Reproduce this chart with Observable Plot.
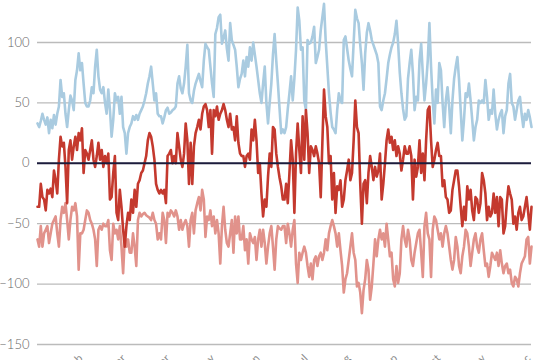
<!DOCTYPE html>
<html>
<head>
<meta charset="utf-8">
<script src="https://cdn.jsdelivr.net/npm/d3@7"></script>
<script src="https://cdn.jsdelivr.net/npm/@observablehq/plot@0.6"></script>
<style>
  html, body { margin: 0; padding: 0; background: #fff; overflow: hidden; }
  #chart svg { overflow: visible; display: block; }
</style>
</head>
<body>
<div id="chart"></div>
<script>
// Series values, one value per step
const upper = [
  33,30,35,41,36,32,38,25,36,29, 40,32,41,47,69,55,58,41,30,44, 56,52,44,69,77,91,77,83,66,50,
  47,47,52,63,58,80,94,72,61,58, 63,50,41,61,44,22,36,58,52,55, 41,55,30,25,8,25,30,33,39,36,
  40,36,41,44,47,52,58,66,72,80, 66,52,58,41,39,
  39,33,38,44,46,41,42,44,45,47, 66,72,62,58,66,80,98,58,52,50, 60,66,70,74,68,63,85,99,96,94,
  80,66,55,107,112,121,123,99,104,110, 95,85,116,102,98,94,80,63,70,74, 85,72,88,80,96,85,100,90,80,69,
  58,50,66,80,50,33,50,66,90,107, 85,66,45,25,28,
  25,30,45,58,72,52,70,94,129,118, 94,96,52,44,102,99,100,105,113,83, 88,94,110,121,132,102,80,58,42,30,
  28,25,44,58,52,50,102,105,95,85, 78,72,100,127,120,116,98,83,61,91, 108,116,110,102,98,94,90,83,47,44,
  52,58,70,83,90,96,100,107,118,99, 75,58,45,36,39,
  70,83,94,74,44,55,52,85,99,74, 52,66,85,116,80,52,33,61,50,83, 77,50,30,52,63,47,25,52,70,80,
  88,69,44,19,36,58,55,66,52,36, 19,30,36,52,50,52,50,69,55,36, 44,41,61,41,28,36,41,44,25,39,
  44,66,74,50,47,36,44,52,55,41, 30,41,36,44,38,30
];
const middle = [
  -36,-36,-17,-28,-30,-39,-22,-25,-21,-28, -6,-14,-25,3,22,14,17,-3,-33,11, 19,3,14,22,11,25,19,29,-8,11,
  8,3,11,19,3,-3,6,17,3,11, -3,6,0,8,-30,-28,-8,6,-41,-47, -22,-36,-55,-69,-52,-41,-47,-30,-41,-22,
  -36,-17,-14,-8,-6,0,6,19,25,22, 14,3,-17,-22,-25,
  -22,-25,-22,-33,6,8,11,0,6,0, 25,14,3,-3,8,33,19,-17,17,-17, 14,25,30,36,28,41,47,49,44,30,
  44,8,44,39,47,36,41,44,49,44, 36,30,41,28,30,19,39,17,8,6, 6,-3,6,8,3,28,19,36,19,-8,
  0,-25,-44,-30,-36,-11,8,-3,30,28, 8,-3,-12,-19,-30,
  -30,-17,-33,-8,19,3,-41,8,33,11, -8,39,3,44,25,-8,14,11,6,14, 8,0,-28,17,61,39,30,0,6,-30,
  -8,-41,-19,-22,-14,-36,-30,-14,-6,3, -14,-8,19,52,30,25,-17,-50,-17,-14, -33,-8,6,-3,-14,-3,-11,-6,8,-30,
  -17,0,19,28,17,22,11,19,6,14, 8,-6,3,14,8,
  8,14,6,-30,3,-11,-3,19,-8,8, -14,19,44,47,19,-3,3,11,17,6, 6,-19,-14,-28,-30,-41,-39,-22,-14,-6,
  -6,-19,-36,-52,-36,-47,-19,-30,-22,-39, -47,-28,-30,-41,-33,-8,-14,-25,-47,-36, -44,-41,-25,-41,-28,-52,-28,-30,-58,-52,
  -33,-19,-25,-30,-50,-44,-55,-41,-36,-47, -44,-36,-28,-41,-55,-36
];
const lower = [
  -63,-69,-52,-69,-58,-55,-52,-66,-58,-50, -47,-44,-58,-69,-47,-36,-41,-33,-47,-63, -47,-36,-39,-33,-44,-88,-58,-58,-55,-47,
  -39,-41,-47,-50,-55,-63,-85,-55,-52,-55, -50,-52,-52,-47,-72,-80,-50,-58,-55,-63, -52,-69,-91,-61,-69,-63,-74,-74,-58,-69,
  -85,-47,-41,-44,-42,-41,-43,-44,-45,-47, -41,-47,-50,-63,-58,
  -63,-41,-47,-66,-41,-44,-39,-41,-44,-39, -44,-55,-47,-55,-50,-47,-52,-69,-47,-41, -58,-39,-33,-28,-39,-22,-30,-61,-44,-47,
  -39,-52,-44,-58,-47,-58,-83,-52,-36,-55, -66,-69,-58,-47,-74,-44,-58,-44,-63,-63, -52,-72,-63,-83,-58,-63,-66,-61,-80,-63,
  -55,-69,-55,-66,-83,-69,-58,-52,-69,-88, -63,-52,-54,-55,-52,
  -52,-66,-50,-58,-69,-55,-47,-83,-99,-74, -80,-74,-69,-74,-85,-94,-83,-96,-80,-77, -85,-77,-74,-80,-74,-63,-72,-58,-52,-47,
  -52,-58,-69,-58,-72,-85,-107,-96,-91,-80, -69,-58,-74,-80,-102,-99,-107,-124,-105,-96, -80,-88,-113,-102,-83,-63,-77,-63,-55,-63,
  -58,-69,-50,-63,-77,-74,-96,-102,-85,-99, -91,-63,-52,-63,-69,
  -55,-63,-80,-85,-74,-66,-58,-55,-74,-94, -52,-41,-58,-63,-94,-55,-44,-47,-55,-63, -58,-69,-58,-52,-58,-69,-80,-88,-80,-61,
  -69,-85,-91,-77,-69,-55,-58,-69,-85,-74, -63,-58,-69,-74,-63,-58,-72,-85,-83,-94, -85,-74,-77,-80,-74,-85,-72,-83,-91,-85,
  -83,-91,-88,-99,-102,-94,-96,-102,-91,-83, -80,-77,-63,-61,-83,-69
];
const seriesNames = ["upper", "lower", "middle"];
const seriesColors = ["#a9cbe0", "#e1928b", "#c4392e"];
const yTicks = [100, 50, 0, -50, -100, -150];
const xTickPositions = [26.3, 52.4, 79.1, 106.5, 133.8, 162.9, 189.0, 217.5, 243.6, 271.0, 298.3];
const xTickLabels = ["Feb", "Mar", "Apr", "May", "Jun", "Jul", "Aug", "Sep", "Oct", "Nov", "Dec"];

const table = [];
const bySeries = {upper, lower, middle};
for (const name of seriesNames) {
  bySeries[name].forEach((v, i) => table.push({series: name, i, value: v}));
}

const chart = Plot.plot({
  width: 540,
  height: 360,
  marginLeft: 37,
  marginRight: 9,
  marginTop: 42,
  marginBottom: 16,
  style: {fontFamily: "Lato, 'Open Sans', sans-serif", fontSize: "13px", color: "#666", background: "#fff"},
  x: {domain: [0, upper.length - 1], axis: null},
  y: {domain: [-150, 100], axis: null},
  color: {domain: seriesNames, range: seriesColors},
  marks: [
    Plot.gridY(yTicks, {stroke: "#bbb", strokeOpacity: 1, strokeWidth: 1.3}),
    Plot.axisY(yTicks, {tickSize: 0, tickPadding: 8, fill: "#666", fontWeight: 300, fontSize: 13, label: null}),
    Plot.axisX(xTickPositions, {
      tickSize: 0, tickPadding: 12, tickRotate: -45, fill: "#888", fontSize: 11, label: null,
      tickFormat: (d) => xTickLabels[xTickPositions.indexOf(d)]
    }),
    Plot.lineY(table, {x: "i", y: "value", z: "series", stroke: "series", strokeWidth: 2.6, strokeLinejoin: "round"}),
    Plot.ruleY([0], {stroke: "#1c1c3c", strokeWidth: 2})
  ]
});
document.getElementById("chart").appendChild(chart);
</script>
</body>
</html>
